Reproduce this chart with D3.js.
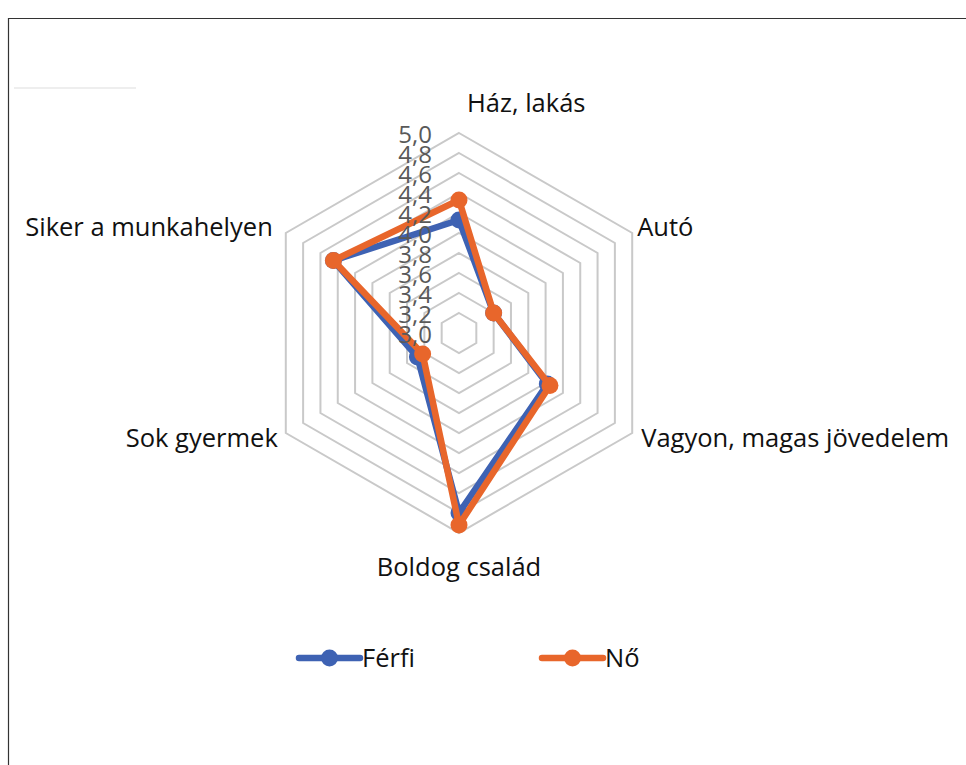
<!DOCTYPE html>
<html>
<head>
<meta charset="utf-8">
<script src="https://cdn.jsdelivr.net/npm/d3@7"></script>
<style>
  body { margin: 0; background: #fff; }
  svg { display: block; }
  text { font-variant-ligatures: none; }
</style>
</head>
<body>
<div id="chart"></div>
<script>
// Data
const categories = ["Ház, lakás", "Autó", "Vagyon, magas jövedelem", "Boldog család", "Sok gyermek", "Siker a munkahelyen"];
const ferfi = [4.13, 3.40, 4.02, 4.80, 3.48, 4.45];
const no = [4.33, 3.40, 4.05, 4.92, 3.42, 4.45];
const ticks = [3.0, 3.2, 3.4, 3.6, 3.8, 4.0, 4.2, 4.4, 4.6, 4.8, 5.0];
const seriesNames = ["Férfi", "Nő"];

const width = 966;
const height = 765;
const cx = 459, cy = 333;
const colors = { "Férfi": "#3E62B3", "Nő": "#E8662B" };
const font = "'Open Sans', sans-serif";

const svg = d3.select("#chart")
    .append("svg")
    .attr("width", width)
    .attr("height", height);

// outer frame (only top and left visible in the reference)
svg.append("path")
    .attr("d", "M8.5,765 L8.5,18.5 L966,18.5")
    .attr("fill", "none")
    .attr("stroke", "#333")
    .attr("stroke-width", 1.2);

// faint leftover line
svg.append("line")
    .attr("x1", 14).attr("x2", 136)
    .attr("y1", 88).attr("y2", 88)
    .attr("stroke", "#eee")
    .attr("stroke-width", 2);

const rScale = d3.scaleLinear().domain([3, 5]).range([0, 200]);
const angle = i => i * Math.PI * 2 / categories.length;
const pt = (i, v) => [cx + rScale(v) * Math.sin(angle(i)), cy - rScale(v) * Math.cos(angle(i))];

// grid rings
svg.append("g")
    .selectAll("path")
    .data(ticks.slice(1))
    .join("path")
    .attr("d", t => d3.line()(categories.map((c, i) => pt(i, t))) + "Z")
    .attr("fill", "none")
    .attr("stroke", "#c9c9c9")
    .attr("stroke-width", 2);

// series
const series = [
    { name: "Férfi", values: ferfi },
    { name: "Nő", values: no }
];

series.forEach(s => {
    const g = svg.append("g");
    g.append("path")
        .attr("d", d3.line()(s.values.map((v, i) => pt(i, v))) + "Z")
        .attr("fill", "none")
        .attr("stroke", colors[s.name])
        .attr("stroke-width", 6.5)
        .attr("stroke-linejoin", "round");
    g.selectAll("circle")
        .data(s.values)
        .join("circle")
        .attr("cx", (v, i) => pt(i, v)[0])
        .attr("cy", (v, i) => pt(i, v)[1])
        .attr("r", 8.5)
        .attr("fill", colors[s.name]);
});

// tick labels (they overlap in the original too)
svg.append("g")
    .selectAll("text")
    .data(ticks)
    .join("text")
    .attr("x", cx - 27)
    .attr("y", t => cy - rScale(t) + 10)
    .attr("text-anchor", "end")
    .attr("font-family", font)
    .attr("font-size", "24px")
    .attr("fill", "#595959")
    .text(t => d3.format(".1f")(t).replace(".", ","));

// category labels
const labelPos = [
    { dx: 8, dy: -21, anchor: "start" },
    { dx: 5, dy: 3, anchor: "start" },
    { dx: 9, dy: 14, anchor: "start" },
    { dx: 0, dy: 43, anchor: "middle" },
    { dx: -8, dy: 14, anchor: "end" },
    { dx: -13, dy: 3, anchor: "end" }
];

svg.append("g")
    .selectAll("text")
    .data(categories)
    .join("text")
    .attr("x", (c, i) => pt(i, 5)[0] + labelPos[i].dx)
    .attr("y", (c, i) => pt(i, 5)[1] + labelPos[i].dy)
    .attr("text-anchor", (c, i) => labelPos[i].anchor)
    .attr("font-family", font)
    .attr("font-size", "25.5px")
    .attr("fill", "#111")
    .text(c => c);

// legend
const legendX = [299, 542];
const legend = svg.append("g")
    .selectAll("g")
    .data(seriesNames)
    .join("g")
    .attr("transform", (d, i) => `translate(${legendX[i]}, 658)`);

legend.append("line")
    .attr("x1", 0).attr("x2", 61)
    .attr("stroke", d => colors[d])
    .attr("stroke-width", 6.5)
    .attr("stroke-linecap", "round");

legend.append("circle")
    .attr("cx", 30.5)
    .attr("r", 8.5)
    .attr("fill", d => colors[d]);

legend.append("text")
    .attr("x", 63)
    .attr("y", 9)
    .attr("font-family", font)
    .attr("font-size", "25.5px")
    .attr("fill", "#111")
    .text(d => d);
</script>
</body>
</html>
